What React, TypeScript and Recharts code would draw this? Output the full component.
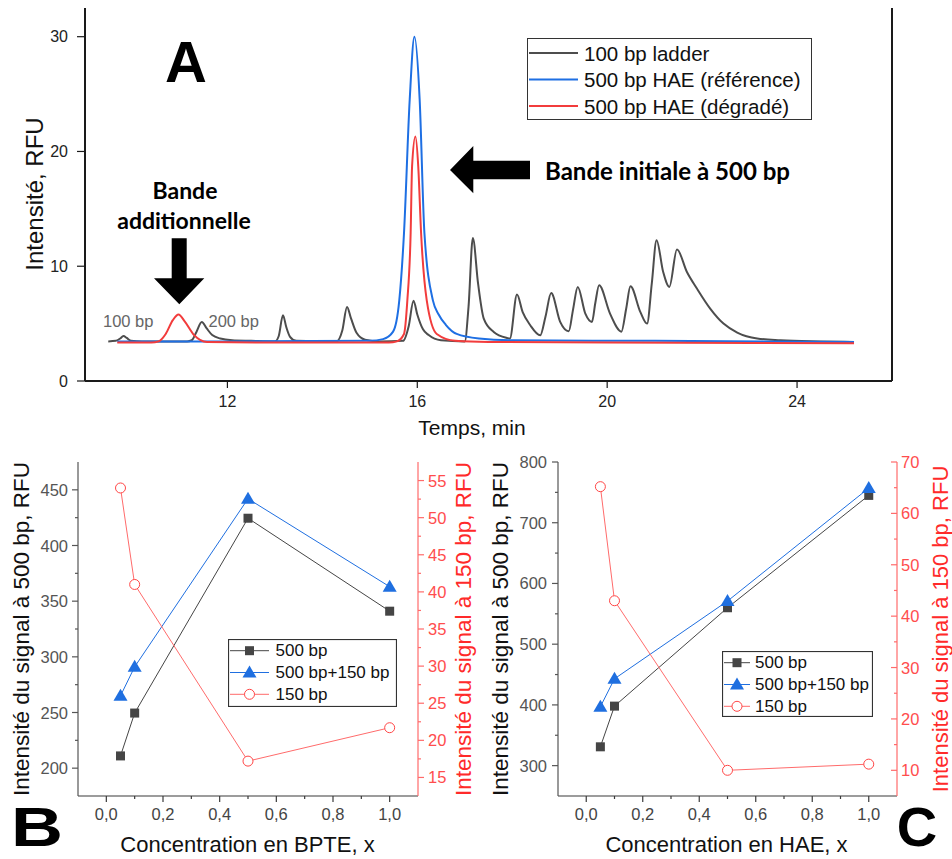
import React from "react";
import { LineChart, Line, XAxis, YAxis, Legend } from "recharts";

const FONT = "'Liberation Sans', Arial, sans-serif";
const BOLD = "Lato, 'Open Sans', sans-serif";

// ---- panel A : electropherograms (time in min, RFU)
const ladderTime = [9.49, 9.65, 9.74, 9.81, 9.88, 9.97, 10.2, 11.15, 11.25, 11.35, 11.46, 11.56, 11.68, 11.85, 12.1, 12.5, 13.0, 13.08, 13.17, 13.24, 13.32, 13.45, 14.3, 14.42, 14.52, 14.6, 14.72, 14.9, 15.2, 15.7, 15.82, 15.92, 16.0, 16.12, 16.24, 16.5, 17.0, 17.08, 17.17, 17.28, 17.4, 17.61, 17.89, 17.95, 18.1, 18.22, 18.38, 18.59, 18.7, 18.82, 19.01, 19.19, 19.28, 19.38, 19.54, 19.68, 19.75, 19.83, 20.06, 20.3, 20.4, 20.49, 20.7, 20.84, 20.94, 21.04, 21.18, 21.31, 21.47, 21.68, 21.89, 22.17, 22.45, 22.74, 23.16, 23.65, 24.5, 25.2];
const ladderSignal = [3.45, 3.5, 3.7, 3.92, 3.75, 3.5, 3.45, 3.45, 3.55, 4.3, 5.14, 4.6, 4.0, 3.7, 3.55, 3.5, 3.45, 3.9, 5.73, 4.7, 3.85, 3.5, 3.45, 4.4, 6.45, 5.5, 4.2, 3.6, 3.45, 3.5, 4.8, 7.0, 5.8, 4.5, 4.0, 3.55, 3.45, 6.5, 12.47, 8.5, 5.44, 4.27, 3.75, 3.7, 7.53, 6.0, 4.86, 3.98, 5.6, 7.67, 5.15, 4.33, 6.2, 8.2, 5.87, 5.15, 6.8, 8.34, 5.87, 4.3, 6.3, 8.26, 6.0, 5.0, 8.5, 12.27, 9.5, 8.2, 11.45, 9.5, 8.06, 6.31, 5.0, 4.22, 3.7, 3.55, 3.45, 3.4];

const refTime = [9.68, 12, 15.0, 15.28, 15.49, 15.62, 15.72, 15.84, 15.94, 16.05, 16.15, 16.33, 16.45, 16.6, 16.83, 17.3, 18, 21, 25.2];
const refSignal = [3.45, 3.45, 3.5, 3.65, 4.3, 7.0, 12.9, 24.5, 30, 24.5, 12.9, 7.0, 5.8, 4.9, 4.1, 3.7, 3.55, 3.5, 3.4];

const degTime = [9.68, 10.4, 10.55, 10.7, 10.85, 10.97, 11.1, 11.3, 11.57, 13, 15.4, 15.57, 15.72, 15.79, 15.86, 15.89, 15.96, 16.02, 16.08, 16.2, 16.41, 16.8, 17.5, 20, 25.2];
const degSignal = [3.35, 3.35, 3.45, 4.1, 5.3, 5.79, 5.2, 4.0, 3.4, 3.35, 3.35, 3.45, 4.1, 7.0, 12.9, 18.7, 21.3, 18.7, 12.9, 7.0, 4.1, 3.5, 3.4, 3.35, 3.28];

const seriesA = ["100 bp ladder", "500 bp HAE (référence)", "500 bp HAE (dégradé)"];
const timeTicks = [12, 16, 20, 24];
const rfuTicks = [0, 10, 20, 30];

// ---- panel B : BPTE series
const bpteConc = [0.05, 0.1, 0.5, 1.0];
const bpte500 = [211, 249.5, 424.5, 341];
const bpte500plus150 = [265, 291, 442, 363];
const bpte150 = [54, 41, 17.2, 21.7];

// ---- panel C : HAE series
const haeConc = [0.05, 0.1, 0.5, 1.0];
const hae500 = [331, 398, 560, 745];
const hae500plus150 = [397, 443, 571, 757];
const hae150 = [65.2, 43, 10, 11.2];

const seriesBC = ["500 bp", "500 bp+150 bp", "150 bp"];
const concMajor = [0, 0.2, 0.4, 0.6, 0.8, 1.0];
const concMinor = [0.1, 0.3, 0.5, 0.7, 0.9];
const bLeftMajor = [200, 250, 300, 350, 400, 450];
const bLeftMinor = [225, 275, 325, 375, 425];
const bRightMajor = [15, 20, 25, 30, 35, 40, 45, 50, 55];
const bRightMinor = [17.5, 22.5, 27.5, 32.5, 37.5, 42.5, 47.5, 52.5];
const cLeftMajor = [300, 400, 500, 600, 700, 800];
const cLeftMinor = [350, 450, 550, 650, 750];
const cRightMajor = [10, 20, 30, 40, 50, 60, 70];
const cRightMinor = [15, 25, 35, 45, 55, 65];

const zip = (ts: number[], ys: number[]) => ts.map((t, i) => ({ t, y: ys[i] }));
const ladderData = zip(ladderTime, ladderSignal);
const refData = zip(refTime, refSignal);
const degData = zip(degTime, degSignal);

const bpteTable = bpteConc.map((x, i) => ({ x, s500: bpte500[i], sSum: bpte500plus150[i], s150: bpte150[i] }));
const haeTable = haeConc.map((x, i) => ({ x, s500: hae500[i], sSum: hae500plus150[i], s150: hae150[i] }));

const comma = (v: number) => v.toFixed(1).replace(".", ",");

const GREY = "#454545";
const BLUE = "#1f6fe0";
const RED = "#ff4646";
const RED_LINE = "#ff6b6b";

type TickOpts = {
  side: "left" | "right" | "bottom" | "top";
  major: number[];
  len: number;
  minorLen: number;
  gap: number;
  size: number;
  color: string;
  stroke: string;
  inward?: boolean;
  noLabel?: boolean;
  fmt?: (v: number) => string;
};

function tickRenderer(o: TickOpts) {
  return (p: any) => {
    const x = Number(p.x);
    const y = Number(p.y);
    const v = Number(p.payload?.value);
    const isMajor = o.major.some((m) => Math.abs(m - v) < 1e-6);
    const len = isMajor ? o.len : o.minorLen;
    const out = o.inward ? -len : len;
    const reach = Math.max(out, 0);
    const label = isMajor && !o.noLabel ? (o.fmt ? o.fmt(v) : String(v)) : "";
    const txt = { fontFamily: FONT, fontSize: o.size, fill: o.color };
    if (o.side === "left") {
      return (
        <g>
          <line x1={x} y1={y} x2={x - out} y2={y} stroke={o.stroke} strokeWidth={1.2} />
          {label && <text x={x - reach - o.gap} y={y} textAnchor="end" dominantBaseline="central" {...txt}>{label}</text>}
        </g>
      );
    }
    if (o.side === "right") {
      return (
        <g>
          <line x1={x} y1={y} x2={x + out} y2={y} stroke={o.stroke} strokeWidth={1.2} />
          {label && <text x={x + reach + o.gap} y={y} textAnchor="start" dominantBaseline="central" {...txt}>{label}</text>}
        </g>
      );
    }
    if (o.side === "top") {
      return (
        <g>
          <line x1={x} y1={y} x2={x} y2={y - out} stroke={o.stroke} strokeWidth={1.2} />
        </g>
      );
    }
    return (
      <g>
        <line x1={x} y1={y} x2={x} y2={y + out} stroke={o.stroke} strokeWidth={1.2} />
        {label && <text x={x} y={y + reach + o.gap} dy="0.8em" textAnchor="middle" {...txt}>{label}</text>}
      </g>
    );
  };
}

const squareDot = (p: any) =>
  p.cx == null ? <g key={`sq${p.index}`} /> : <rect key={`sq${p.index}`} x={p.cx - 4.5} y={p.cy - 4.5} width={9} height={9} fill={GREY} />;
const triangleDot = (p: any) =>
  p.cx == null ? <g key={`tr${p.index}`} /> : (
    <polygon key={`tr${p.index}`} points={`${p.cx},${p.cy - 7} ${p.cx + 7},${p.cy + 5} ${p.cx - 7},${p.cy + 5}`} fill={BLUE} />
  );
const circleDot = (p: any) =>
  p.cx == null ? <g key={`ci${p.index}`} /> : <circle key={`ci${p.index}`} cx={p.cx} cy={p.cy} r={5} fill="#fff" stroke={RED} strokeWidth={1} />;

// legend items come back sorted by name; put them back in series order
const inOrder = (payload: any[], names: string[]) =>
  [...(payload || [])].sort((a, b) => names.indexOf(a.value) - names.indexOf(b.value));

function legendA(props: any) {
  const items = inOrder(props.payload, seriesA);
  return (
    <svg width={285} height={82} style={{ display: "block" }}>
      <rect x={0.5} y={0.5} width={284} height={81} fill="#fff" stroke="#333" strokeWidth={1} />
      {items.map((e: any, i: number) => {
        const cy = 15 + i * 26.5;
        return (
          <g key={i}>
            <line x1={2} x2={51} y1={cy} y2={cy} stroke={e.color} strokeWidth={2} />
            <text x={57} y={cy} dominantBaseline="central" fontFamily={FONT} fontSize={20.5} fill="#111">{e.value}</text>
          </g>
        );
      })}
    </svg>
  );
}

function legendBC(w: number, h: number, x1: number, x2: number, tx: number) {
  const marks: Record<string, (cx: number, cy: number) => React.ReactNode> = {
    "500 bp": (cx, cy) => <rect x={cx - 4.5} y={cy - 4.5} width={9} height={9} fill={GREY} />,
    "500 bp+150 bp": (cx, cy) => <polygon points={`${cx},${cy - 7} ${cx + 7},${cy + 5} ${cx - 7},${cy + 5}`} fill={BLUE} />,
    "150 bp": (cx, cy) => <circle cx={cx} cy={cy} r={5} fill="#fff" stroke={RED} strokeWidth={1} />,
  };
  return (props: any) => {
    const items = inOrder(props.payload, seriesBC);
    return (
      <svg width={w} height={h} style={{ display: "block" }}>
        <rect x={0.5} y={0.5} width={w - 1} height={h - 1} fill="#fff" stroke="#333" strokeWidth={1.2} />
        {items.map((e: any, i: number) => {
          const cy = 11.7 + i * 21.8;
          const mk = marks[e.value];
          return (
            <g key={i}>
              <line x1={x1} x2={x2} y1={cy} y2={cy} stroke={e.color} strokeWidth={1} />
              {mk && mk((x1 + x2) / 2, cy)}
              <text x={tx} y={cy} dominantBaseline="central" fontFamily={FONT} fontSize={17} fill="#111">{e.value}</text>
            </g>
          );
        })}
      </svg>
    );
  };
}

function PanelA() {
  const axis = { stroke: "#1a1a1a", strokeWidth: 2 };
  return (
    <LineChart width={952} height={440} margin={{ top: 8, right: 0, bottom: 0, left: 0 }}>
      <XAxis
        type="number"
        dataKey="t"
        domain={[9, 26]}
        ticks={timeTicks}
        interval={0}
        height={59}
        tickSize={0}
        tickMargin={0}
        tickLine={false}
        axisLine={axis}
        allowDataOverflow
        tick={tickRenderer({ side: "bottom", major: timeTicks, len: 7, minorLen: 0, gap: 6, size: 16, color: "#222", stroke: "#1a1a1a" })}
      />
      <XAxis xAxisId="top" orientation="top" type="number" domain={[9, 26]} height={0} tick={false} tickLine={false} axisLine={axis} allowDataOverflow />
      <YAxis
        type="number"
        domain={[0, 32.5]}
        ticks={rfuTicks}
        interval={0}
        width={85}
        tickSize={0}
        tickMargin={0}
        tickLine={false}
        axisLine={axis}
        allowDataOverflow
        tick={tickRenderer({ side: "left", major: rfuTicks, len: 8, minorLen: 0, gap: 9, size: 16, color: "#222", stroke: "#1a1a1a" })}
      />
      <YAxis yAxisId="r" orientation="right" type="number" domain={[0, 32.5]} width={60} tick={false} tickLine={false} axisLine={axis} allowDataOverflow />
      <Line data={ladderData} dataKey="y" name={seriesA[0]} type="monotone" stroke="#4d4d4d" strokeWidth={2} dot={false} isAnimationActive={false} />
      <Line data={refData} dataKey="y" name={seriesA[1]} type="monotone" stroke="#1e6fe3" strokeWidth={2} dot={false} isAnimationActive={false} />
      <Line data={degData} dataKey="y" name={seriesA[2]} type="monotone" stroke="#f23c3c" strokeWidth={2} dot={false} isAnimationActive={false} />
      <Legend
        layout="horizontal"
        verticalAlign="middle"
        align="center"
        content={legendA}
        wrapperStyle={{ left: 526.5, top: 38, width: 285, height: 82 }}
      />
    </LineChart>
  );
}

type SideProps = {
  table: any[];
  leftW: number;
  rightW: number;
  leftDomain: [number, number];
  rightDomain: [number, number];
  leftMajor: number[];
  leftMinor: number[];
  rightMajor: number[];
  rightMinor: number[];
  leftGap: number;
  rightGap: number;
  rightInward?: boolean;
  legend: { left: number; top: number; w: number; h: number; x1: number; x2: number; tx: number };
};

function PanelBC(s: SideProps) {
  const dark = "#3a3a3a";
  const concTicks = [...concMajor, ...concMinor].sort((a, b) => a - b);
  return (
    <LineChart width={476} height={419} data={s.table} margin={{ top: 22, right: 0, bottom: 0, left: 0 }}>
      <XAxis
        type="number"
        dataKey="x"
        domain={[-0.1, 1.1]}
        ticks={concTicks}
        interval={0}
        height={63}
        tickSize={0}
        tickMargin={0}
        tickLine={false}
        axisLine={{ stroke: dark, strokeWidth: 1.2 }}
        allowDataOverflow
        tick={tickRenderer({ side: "bottom", major: concMajor, len: 6, minorLen: 3, gap: 5, size: 16.5, color: "#444", stroke: dark, fmt: comma })}
      />
      <XAxis
        xAxisId="top"
        orientation="top"
        type="number"
        domain={[-0.1, 1.1]}
        ticks={concTicks}
        interval={0}
        height={0}
        tickSize={0}
        tickMargin={0}
        tickLine={false}
        axisLine={{ stroke: "#555", strokeWidth: 1.2 }}
        allowDataOverflow
        tick={tickRenderer({ side: "top", major: concMajor, len: 5, minorLen: 3, gap: 0, size: 1, color: "#555", stroke: "#555", inward: true, noLabel: true })}
      />
      <YAxis
        yAxisId="left"
        type="number"
        domain={s.leftDomain}
        ticks={[...s.leftMajor, ...s.leftMinor].sort((a, b) => a - b)}
        interval={0}
        width={s.leftW}
        tickSize={0}
        tickMargin={0}
        tickLine={false}
        axisLine={{ stroke: "#555", strokeWidth: 1.2 }}
        allowDataOverflow
        tick={tickRenderer({ side: "left", major: s.leftMajor, len: 6, minorLen: 3, gap: s.leftGap, size: 16.5, color: "#555", stroke: "#555" })}
      />
      <YAxis
        yAxisId="right"
        orientation="right"
        type="number"
        domain={s.rightDomain}
        ticks={[...s.rightMajor, ...s.rightMinor].sort((a, b) => a - b)}
        interval={0}
        width={s.rightW}
        tickSize={0}
        tickMargin={0}
        tickLine={false}
        axisLine={{ stroke: RED_LINE, strokeWidth: 1.2 }}
        allowDataOverflow
        tick={tickRenderer({ side: "right", major: s.rightMajor, len: 6, minorLen: 3, gap: s.rightGap, size: 16.5, color: "#ff4d4d", stroke: RED_LINE, inward: s.rightInward })}
      />
      <Line yAxisId="left" dataKey="s500" name={seriesBC[0]} type="linear" stroke={GREY} strokeWidth={1} dot={squareDot} isAnimationActive={false} />
      <Line yAxisId="left" dataKey="sSum" name={seriesBC[1]} type="linear" stroke={BLUE} strokeWidth={1} dot={triangleDot} isAnimationActive={false} />
      <Line yAxisId="right" dataKey="s150" name={seriesBC[2]} type="linear" stroke={RED_LINE} strokeWidth={1} dot={circleDot} isAnimationActive={false} />
      <Legend
        layout="horizontal"
        verticalAlign="middle"
        align="center"
        content={legendBC(s.legend.w, s.legend.h, s.legend.x1, s.legend.x2, s.legend.tx)}
        wrapperStyle={{ left: s.legend.left, top: s.legend.top, width: s.legend.w, height: s.legend.h }}
      />
    </LineChart>
  );
}

function Overlay() {
  const title = { fontFamily: FONT, fill: "#111" };
  return (
    <svg width={952} height={859} style={{ position: "absolute", left: 0, top: 0, pointerEvents: "none" }}>
      {/* panel letters */}
      <text x={186} y={81.5} textAnchor="middle" fontFamily={FONT} fontWeight={700} fontSize={58} fill="#000">A</text>
      <text x={11} y={846} textLength={52} lengthAdjust="spacingAndGlyphs" fontFamily={FONT} fontWeight={700} fontSize={55} fill="#000">B</text>
      <text x={917} y={846} textAnchor="middle" fontFamily={FONT} fontWeight={700} fontSize={56} fill="#000">C</text>

      {/* panel A annotations */}
      <text x={185} y={190} textAnchor="middle" dominantBaseline="central" fontFamily={BOLD} fontWeight={700} fontSize={23} fill="#000">Bande</text>
      <text x={184} y={220} textAnchor="middle" dominantBaseline="central" fontFamily={BOLD} fontWeight={700} fontSize={23} fill="#000">additionnelle</text>
      <polygon points="171.7,238.3 186.7,238.3 186.7,278.3 204.3,278.3 179.3,304.3 154,278.3 171.7,278.3" fill="#000" />
      <polygon points="450,170 473.3,146 473.3,160.7 530,160.7 530,179.3 473.3,179.3 473.3,193.3" fill="#000" />
      <text x={545} y={170} textLength={245} lengthAdjust="spacingAndGlyphs" dominantBaseline="central" fontFamily={BOLD} fontWeight={700} fontSize={24} fill="#000">Bande initiale à 500 bp</text>
      <text x={103} y={320.5} dominantBaseline="central" fontFamily={FONT} fontSize={16.5} fill="#666">100 bp</text>
      <text x={208.5} y={320.5} dominantBaseline="central" fontFamily={FONT} fontSize={16.5} fill="#666">200 bp</text>

      {/* axis titles A */}
      <text transform="translate(34,194) rotate(-90)" textAnchor="middle" dominantBaseline="central" fontSize={24} {...title}>Intensité, RFU</text>
      <text x={472} y={427} textAnchor="middle" dominantBaseline="central" fontSize={21} {...title}>Temps, min</text>

      {/* axis titles B */}
      <text transform="translate(21,629) rotate(-90)" textAnchor="middle" dominantBaseline="central" fontSize={22.5} {...title}>Intensité du signal à 500 bp, RFU</text>
      <text transform="translate(463,629) rotate(-90)" textAnchor="middle" dominantBaseline="central" fontSize={22.5} fontFamily={FONT} fill="#ff2a2a">Intensité du signal à 150 bp, RFU</text>
      <text x={247.5} y={852} textAnchor="middle" fontSize={22} {...title}>Concentration en BPTE, x</text>

      {/* axis titles C */}
      <text transform="translate(500.5,629) rotate(-90)" textAnchor="middle" dominantBaseline="central" fontSize={22.5} {...title}>Intensité du signal à 500 bp, RFU</text>
      <text transform="translate(940,629) rotate(-90)" textAnchor="middle" dominantBaseline="central" fontSize={22} fontFamily={FONT} fill="#ff2a2a">Intensité du signal à 150 bp, RFU</text>
      <text x={726.5} y={852} textAnchor="middle" fontSize={22} {...title}>Concentration en HAE, x</text>
    </svg>
  );
}

export default function App() {
  return (
    <div style={{ position: "absolute", left: 0, top: 0, width: 952, height: 859, background: "#fff", overflow: "hidden" }}>
      <div style={{ position: "absolute", left: 0, top: 0 }}>
        <PanelA />
      </div>
      <div style={{ position: "absolute", left: 0, top: 440 }}>
        <PanelBC
          table={bpteTable}
          leftW={78}
          rightW={58}
          leftDomain={[175, 475]}
          rightDomain={[12.5, 57.5]}
          leftMajor={bLeftMajor}
          leftMinor={bLeftMinor}
          rightMajor={bRightMajor}
          rightMinor={bRightMinor}
          leftGap={4}
          rightGap={4}
          legend={{ left: 227.5, top: 199, w: 169, h: 68, x1: 2, x2: 41, tx: 47.5 }}
        />
      </div>
      <div style={{ position: "absolute", left: 476, top: 440 }}>
        <PanelBC
          table={haeTable}
          leftW={82}
          rightW={55}
          leftDomain={[250, 800]}
          rightDomain={[5, 70]}
          leftMajor={cLeftMajor}
          leftMinor={cLeftMinor}
          rightMajor={cRightMajor}
          rightMinor={cRightMinor}
          leftGap={5}
          rightGap={4}
          rightInward
          legend={{ left: 246.3, top: 211, w: 151, h: 66, x1: 2, x2: 28, tx: 33 }}
        />
      </div>
      <Overlay />
    </div>
  );
}
